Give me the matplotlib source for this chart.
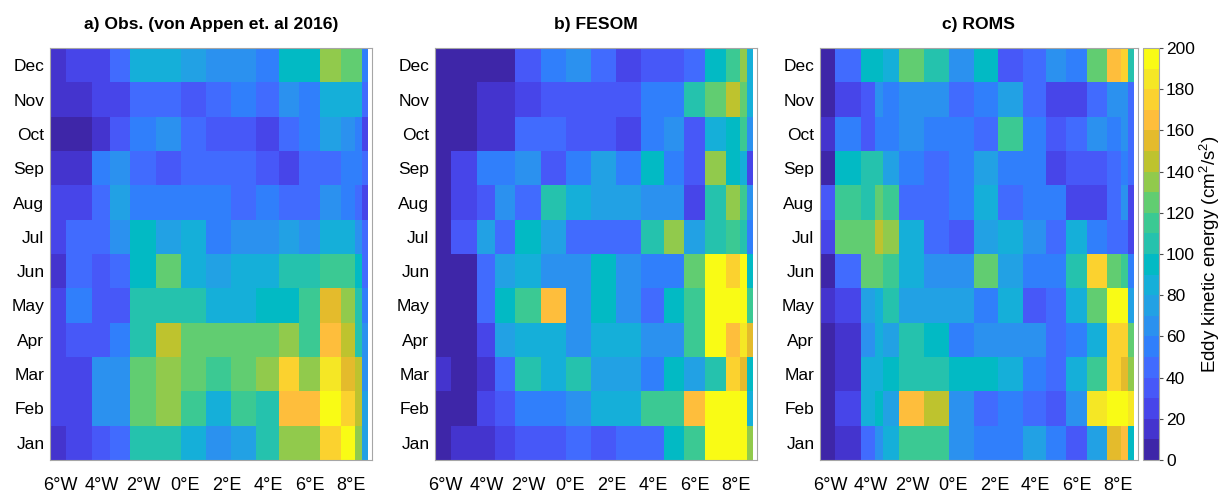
import numpy as np
import matplotlib
matplotlib.use('Agg')
import matplotlib.pyplot as plt
from matplotlib.colors import LinearSegmentedColormap

plt.rcParams['font.family'] = ['Liberation Sans', 'DejaVu Sans']
plt.rcParams['mathtext.default'] = 'regular'

# maaneder og lengdegrader
maaneder = ['Jan', 'Feb', 'Mar', 'Apr', 'May', 'Jun', 'Jul', 'Aug', 'Sep', 'Oct', 'Nov', 'Dec']
lon_ticks = [-6, -4, -2, 0, 2, 4, 6, 8]
lon_tick_labels = ['6°W', '4°W', '2°W', '0°E', '2°E', '4°E', '6°E', '8°E']

# cellegrenser (grader) for obs/FESOM og ROMS
lon_kanter_obs = [-6.5, -5.75, -4.5, -3.6, -2.63, -1.42, -0.2, 1.0, 2.2, 3.4, 4.5, 5.5, 6.5, 7.5, 8.17, 8.5, 8.82]
lon_kanter_roms = [-6.5, -5.75, -4.5, -3.8, -3.45, -2.63, -1.42, -0.2, 1.0, 2.2, 3.4, 4.5, 5.5, 6.5, 7.5, 8.17, 8.5, 8.82]

titler = ['a) Obs. (von Appen et. al 2016)', 'b) FESOM', 'c) ROMS']

# EKE (cm2/s2), en rad per maaned Jan..Dec
eke_obs = [
    [15, 25, 35, 45, 105, 105, 85, 65, 75, 105, 135, 135, 175, 195, 135, 75],
    [25, 25, 65, 65, 125, 135, 115, 85, 115, 105, 165, 165, 195, 175, 145, 75],
    [25, 25, 65, 65, 125, 135, 125, 115, 125, 135, 175, 135, 185, 155, 145, 65],
    [25, 35, 35, 55, 105, 145, 125, 125, 125, 125, 135, 115, 165, 145, 105, 65],
    [25, 55, 35, 35, 105, 105, 105, 85, 85, 95, 95, 115, 155, 135, 105, 55],
    [15, 45, 35, 45, 95, 125, 85, 75, 85, 85, 105, 105, 115, 115, 95, 45],
    [25, 45, 45, 65, 95, 75, 85, 55, 65, 65, 75, 65, 85, 85, 65, 45],
    [25, 25, 45, 75, 55, 55, 55, 55, 45, 55, 45, 45, 65, 55, 45, 25],
    [15, 15, 55, 65, 45, 35, 45, 45, 45, 35, 25, 45, 45, 55, 55, 45],
    [5, 5, 15, 35, 55, 65, 45, 35, 35, 25, 45, 55, 75, 65, 55, 25],
    [15, 15, 25, 25, 45, 45, 35, 45, 55, 45, 65, 55, 85, 85, 85, 45],
    [15, 25, 25, 45, 85, 85, 75, 65, 65, 55, 95, 95, 135, 125, 125, 55],
]

eke_fesom = [
    [5, 15, 15, 25, 35, 35, 45, 35, 45, 45, 95, 115, 195, 195, 195, 135],
    [5, 5, 25, 35, 55, 55, 65, 85, 85, 115, 115, 165, 195, 195, 195, 85],
    [15, 5, 15, 45, 105, 85, 105, 75, 75, 55, 95, 75, 105, 175, 155, 95],
    [5, 5, 25, 75, 85, 85, 65, 85, 85, 65, 65, 115, 195, 165, 185, 155],
    [5, 5, 45, 95, 115, 165, 65, 95, 65, 45, 95, 115, 195, 195, 195, 115],
    [5, 5, 45, 75, 85, 65, 65, 95, 65, 55, 55, 125, 195, 175, 195, 95],
    [5, 35, 75, 45, 95, 75, 45, 45, 45, 105, 135, 75, 105, 115, 105, 55],
    [5, 25, 35, 65, 45, 105, 85, 75, 75, 65, 65, 25, 105, 135, 115, 65],
    [5, 25, 55, 55, 65, 35, 55, 75, 55, 95, 55, 35, 135, 95, 85, 25],
    [5, 5, 15, 15, 45, 45, 35, 35, 25, 55, 65, 35, 85, 95, 115, 65],
    [5, 5, 15, 15, 25, 35, 35, 35, 35, 55, 55, 105, 125, 145, 125, 85],
    [5, 5, 5, 5, 35, 55, 65, 45, 25, 35, 35, 45, 95, 115, 135, 85],
]

eke_roms = [
    [5, 15, 45, 65, 85, 115, 115, 65, 55, 55, 75, 55, 35, 75, 155, 165, 95],
    [5, 25, 85, 95, 75, 165, 145, 65, 45, 55, 45, 35, 65, 185, 195, 195, 185],
    [5, 15, 85, 85, 95, 105, 105, 95, 95, 85, 55, 45, 85, 115, 175, 155, 135],
    [5, 15, 65, 85, 75, 105, 95, 55, 65, 65, 65, 45, 55, 85, 175, 175, 125],
    [15, 25, 75, 85, 105, 75, 75, 75, 55, 85, 35, 45, 85, 125, 195, 195, 75],
    [5, 45, 125, 125, 115, 85, 65, 65, 125, 75, 55, 55, 105, 175, 125, 115, 55],
    [25, 125, 125, 145, 135, 85, 45, 35, 75, 85, 65, 45, 85, 55, 45, 45, 25],
    [35, 115, 105, 125, 115, 45, 45, 55, 85, 45, 55, 55, 25, 25, 45, 65, 25],
    [5, 95, 105, 105, 75, 55, 45, 55, 75, 55, 55, 25, 35, 35, 45, 55, 45],
    [15, 55, 35, 55, 55, 65, 55, 55, 45, 115, 55, 35, 45, 65, 55, 65, 45],
    [5, 25, 35, 65, 55, 65, 65, 45, 55, 75, 45, 25, 25, 45, 65, 65, 45],
    [5, 45, 95, 95, 85, 125, 105, 65, 95, 35, 45, 65, 55, 125, 165, 175, 105],
]

# parula (MATLAB) fargekart, 64 verdier
parula_data = [
    [0.2422, 0.1504, 0.6603], [0.2504, 0.1650, 0.7076], [0.2578, 0.1818, 0.7511], [0.2647, 0.1978, 0.7952],
    [0.2706, 0.2147, 0.8364], [0.2751, 0.2342, 0.8710], [0.2783, 0.2559, 0.8991], [0.2803, 0.2782, 0.9221],
    [0.2813, 0.3006, 0.9414], [0.2810, 0.3228, 0.9579], [0.2795, 0.3447, 0.9717], [0.2760, 0.3667, 0.9829],
    [0.2699, 0.3892, 0.9906], [0.2602, 0.4123, 0.9952], [0.2440, 0.4358, 0.9988], [0.2206, 0.4603, 0.9973],
    [0.1963, 0.4847, 0.9892], [0.1834, 0.5074, 0.9798], [0.1786, 0.5289, 0.9682], [0.1764, 0.5499, 0.9520],
    [0.1687, 0.5703, 0.9359], [0.1540, 0.5902, 0.9218], [0.1460, 0.6091, 0.9079], [0.1380, 0.6276, 0.8973],
    [0.1248, 0.6459, 0.8883], [0.1113, 0.6635, 0.8763], [0.0952, 0.6798, 0.8598], [0.0689, 0.6948, 0.8394],
    [0.0297, 0.7082, 0.8163], [0.0036, 0.7203, 0.7917], [0.0067, 0.7312, 0.7660], [0.0433, 0.7411, 0.7394],
    [0.0964, 0.7500, 0.7120], [0.1408, 0.7584, 0.6842], [0.1717, 0.7670, 0.6554], [0.1938, 0.7758, 0.6251],
    [0.2161, 0.7843, 0.5923], [0.2470, 0.7918, 0.5567], [0.2906, 0.7973, 0.5188], [0.3406, 0.8008, 0.4789],
    [0.3909, 0.8029, 0.4354], [0.4456, 0.8024, 0.3909], [0.5044, 0.7993, 0.3480], [0.5616, 0.7942, 0.3045],
    [0.6174, 0.7876, 0.2612], [0.6720, 0.7793, 0.2227], [0.7242, 0.7698, 0.1910], [0.7738, 0.7598, 0.1646],
    [0.8203, 0.7498, 0.1535], [0.8634, 0.7406, 0.1596], [0.9035, 0.7330, 0.1774], [0.9393, 0.7288, 0.2100],
    [0.9728, 0.7298, 0.2394], [0.9956, 0.7434, 0.2371], [0.9970, 0.7659, 0.2199], [0.9952, 0.7893, 0.2028],
    [0.9892, 0.8136, 0.1885], [0.9786, 0.8386, 0.1766], [0.9676, 0.8639, 0.1643], [0.9610, 0.8890, 0.1537],
    [0.9597, 0.9135, 0.1423], [0.9628, 0.9373, 0.1265], [0.9691, 0.9606, 0.1064], [0.9769, 0.9839, 0.0805],
]
parula20 = LinearSegmentedColormap.from_list('parula', parula_data, N=20)

fig = plt.figure(figsize=(12.24, 4.95), dpi=100)
W, H = 1224, 495

# posisjon i piksler: venstre, bredde
akse_pos = [(50, 322), (435, 322), (820, 318)]
topp, bunn = 48, 460

y_kanter = np.arange(0.5, 13.0, 1.0)
datasett = [(eke_obs, lon_kanter_obs), (eke_fesom, lon_kanter_obs), (eke_roms, lon_kanter_roms)]

mesh = None
for i, (data, kanter) in enumerate(datasett):
    venstre, bredde = akse_pos[i]
    ax = fig.add_axes([venstre / W, (H - bunn) / H, bredde / W, (bunn - topp) / H])
    mesh = ax.pcolormesh(kanter, y_kanter, np.array(data), cmap=parula20, vmin=0, vmax=200)
    ax.set_xlim(-6.5, 9.0)
    ax.set_ylim(0.5, 12.5)
    ax.set_xticks(lon_ticks)
    ax.set_xticklabels(lon_tick_labels)
    ax.set_yticks(range(1, 13))
    ax.set_yticklabels(maaneder)
    ax.tick_params(axis='y', length=0, labelsize=12.5, pad=4)
    ax.tick_params(axis='x', length=0, labelsize=13, pad=12)
    for s in ax.spines.values():
        s.set_color('0.65')
        s.set_linewidth(0.8)
    ax.set_title(titler[i], fontweight='bold', fontsize=12.6, pad=14)

cax = fig.add_axes([1143 / W, (H - bunn) / H, 16 / W, (bunn - topp) / H])
cb = fig.colorbar(mesh, cax=cax, ticks=range(0, 201, 20))
cb.outline.set_edgecolor('0.65')
cb.outline.set_linewidth(0.8)
cax.tick_params(labelsize=12.5, length=3, width=0.8, direction='out', color='0.3', pad=2)
cb.set_label('Eddy kinetic energy (cm$^2$/s$^2$)', fontsize=13.5, labelpad=2)

fig.savefig('out.png', dpi=100)
